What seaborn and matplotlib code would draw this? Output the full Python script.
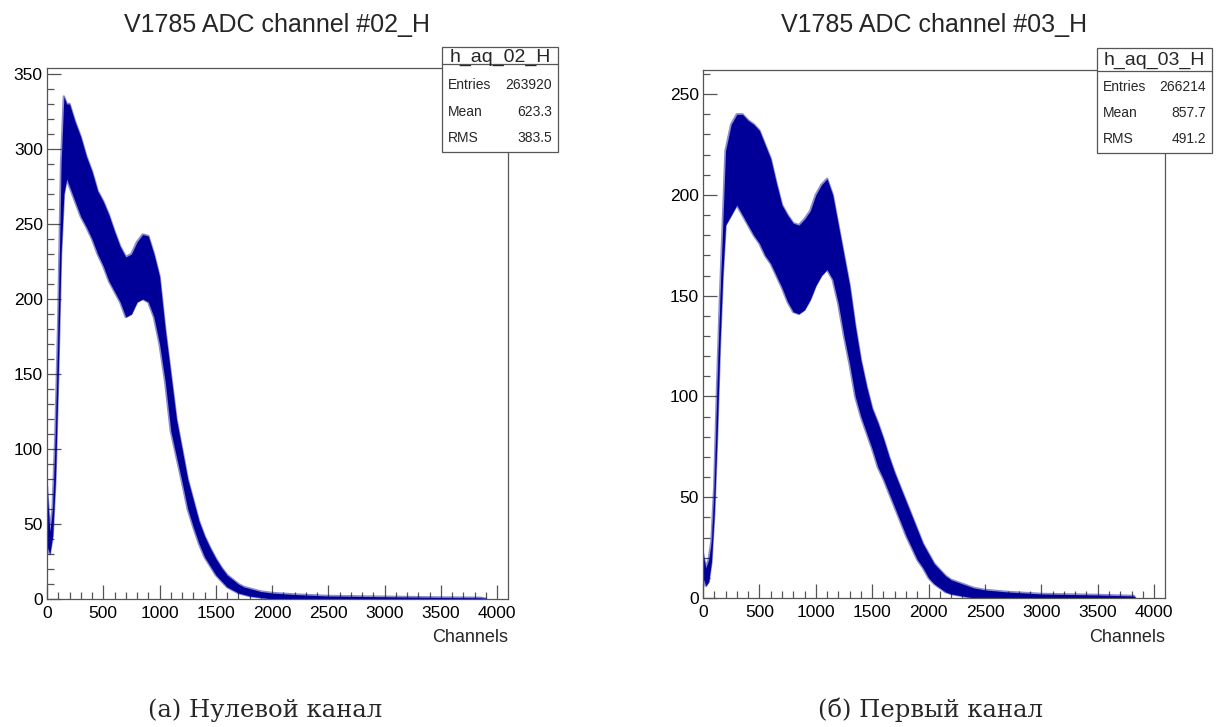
import numpy as np
import pandas as pd
import matplotlib
matplotlib.use("Agg")
import matplotlib.pyplot as plt
import seaborn as sns
from matplotlib.patches import Rectangle
from matplotlib.lines import Line2D
from matplotlib.ticker import MultipleLocator

# ADC spectra: channel and the lower / upper edge of the noisy band
ch_02 = [0, 25, 50, 75, 100, 125, 150, 175, 200, 250, 300, 350, 400, 450, 500, 550,
         600, 650, 700, 750, 800, 850, 900, 950, 1000, 1050, 1100, 1150, 1200, 1250,
         1300, 1350, 1400, 1450, 1500, 1550, 1600, 1650, 1700, 1750, 1800, 1900, 2000,
         2200, 2500, 3000, 3500, 3850, 3900]
lo_02 = [35, 30, 42, 80, 150, 230, 270, 280, 275, 265, 255, 248, 240, 230, 222, 212,
         205, 198, 188, 190, 198, 200, 198, 188, 170, 145, 112, 95, 78, 60,
         48, 37, 28, 22, 16, 12, 8, 6, 4, 3, 2, 1, 0,
         0, 0, 0, 0, 0, 0]
hi_02 = [75, 45, 60, 110, 185, 290, 335, 330, 330, 318, 308, 295, 285, 272, 265, 256,
         245, 235, 228, 230, 238, 243, 242, 230, 215, 180, 150, 120, 100, 80,
         66, 52, 42, 34, 27, 21, 16, 13, 10, 8, 7, 5, 4,
         3, 2, 1.5, 1, 0.8, 0]

ch_03 = [0, 25, 50, 75, 100, 125, 150, 175, 200, 250, 300, 350, 400, 450, 500, 550,
         600, 650, 700, 750, 800, 850, 900, 950, 1000, 1050, 1100, 1150, 1200, 1250,
         1300, 1350, 1400, 1450, 1500, 1550, 1600, 1650, 1700, 1750, 1800, 1850, 1900,
         1950, 2000, 2050, 2100, 2150, 2200, 2300, 2400, 2500, 2700, 3000, 3500, 3820, 3830]
lo_03 = [10, 6, 8, 18, 42, 80, 125, 160, 185, 190, 195, 190, 185, 180, 176, 170,
         166, 160, 154, 147, 142, 141, 143, 148, 155, 160, 163, 158, 146, 130,
         116, 100, 90, 82, 74, 65, 59, 52, 45, 38, 31, 25, 19,
         15, 10, 7, 5, 3, 2, 1, 0, 0, 0, 0, 0, 0, 0]
hi_03 = [22, 15, 19, 28, 55, 105, 148, 185, 222, 235, 240, 240, 237, 235, 232, 225,
         218, 206, 195, 190, 186, 185, 188, 192, 200, 205, 208, 200, 185, 170,
         155, 135, 118, 105, 94, 87, 79, 70, 62, 55, 48, 41, 34,
         27, 22, 17, 14, 11, 9, 7, 5, 4, 3, 2, 1.5, 1, 0]

titles = ["V1785 ADC channel #02_H", "V1785 ADC channel #03_H"]
hist_names = ["h_aq_02_H", "h_aq_03_H"]
stat_labels = ["Entries", "Mean", "RMS"]
stats_02 = ["263920", "623.3", "383.5"]
stats_03 = ["266214", "857.7", "491.2"]
captions = ["(а) Нулевой канал", "(б) Первый канал"]

W, H = 1221, 727
BLUE = "#000099"
FRAME = "#555555"

sns.set_theme(style="ticks")
plt.rcParams["font.family"] = ["Liberation Sans", "DejaVu Sans"]

fig = plt.figure(figsize=(W / 100, H / 100), dpi=100)
fig.patch.set_facecolor("white")


def fx(x):
    return x / W


def fy(y):
    return 1 - y / H


def draw_panel(frame, ch, lo, hi, ymax, title, name, stats, box, sep_y, rows_y, head_y,
               caption, cap_x):
    x0, y0, x1, y1 = frame
    ax = fig.add_axes([fx(x0), fy(y1), fx(x1) - fx(x0), fy(y0) - fy(y1)])
    df = pd.DataFrame({"ch": ch, "lo": lo, "hi": hi})
    ax.fill_between(df["ch"], df["lo"], df["hi"], color=BLUE, lw=0)
    # soft fringe standing in for the single-bin spikes
    sns.lineplot(data=df, x="ch", y="hi", ax=ax, color=BLUE, lw=1.8, alpha=0.45)
    sns.lineplot(data=df, x="ch", y="lo", ax=ax, color=BLUE, lw=1.8, alpha=0.45)
    ax.set_xlim(0, 4096)
    ax.set_ylim(0, ymax)
    ax.set_xlabel("")
    ax.set_ylabel("")
    ax.set_facecolor("white")
    for s in ax.spines.values():
        s.set_color(FRAME)
        s.set_linewidth(0.9)
    ax.xaxis.set_major_locator(MultipleLocator(500))
    ax.xaxis.set_minor_locator(MultipleLocator(100))
    ax.yaxis.set_major_locator(MultipleLocator(50))
    ax.yaxis.set_minor_locator(MultipleLocator(10))
    ax.tick_params(which="both", direction="in", color=FRAME, width=0.9,
                   top=False, right=False, labelsize=12.5, labelcolor="black")
    ax.tick_params(which="major", length=10)
    ax.tick_params(which="minor", length=5)
    ax.tick_params(axis="x", pad=5)
    ax.tick_params(axis="y", pad=3)

    fig.text(fx((x0 + x1) / 2), fy(25), title, ha="center", va="center", fontsize=18)
    fig.text(fx(x1), fy(637), "Channels", ha="right", va="center", fontsize=13)

    bx0, by0, bx1, by1 = box
    fig.add_artist(Rectangle((fx(bx0), fy(by1)), fx(bx1) - fx(bx0), fy(by0) - fy(by1),
                             transform=fig.transFigure, fc="white", ec=FRAME, lw=0.9,
                             zorder=5))
    fig.add_artist(Line2D([fx(bx0), fx(bx1)], [fy(sep_y), fy(sep_y)],
                          transform=fig.transFigure, color=FRAME, lw=0.9, zorder=6))
    fig.text(fx((bx0 + bx1) / 2), fy(head_y), name, ha="center", va="center",
             fontsize=14, zorder=7)
    for lab, val, ry in zip(stat_labels, stats, rows_y):
        fig.text(fx(bx0 + 6), fy(ry), lab, ha="left", va="center", fontsize=10, zorder=7)
        fig.text(fx(bx1 - 6), fy(ry), val, ha="right", va="center", fontsize=10, zorder=7)

    fig.text(fx(cap_x), fy(710), caption, ha="center", va="center", fontsize=17.5,
             family=["DejaVu Serif"])


draw_panel((47, 68, 508, 599), ch_02, lo_02, hi_02, 354, titles[0], hist_names[0],
           stats_02, (442, 47, 558, 152), 64, (85, 112, 138), 57, captions[0], 265)
draw_panel((703, 70, 1165, 598), ch_03, lo_03, hi_03, 262, titles[1], hist_names[1],
           stats_03, (1097, 48, 1212, 153), 71, (87, 113, 139), 60, captions[1], 930)

fig.savefig("out.png", dpi=100, facecolor="white")
